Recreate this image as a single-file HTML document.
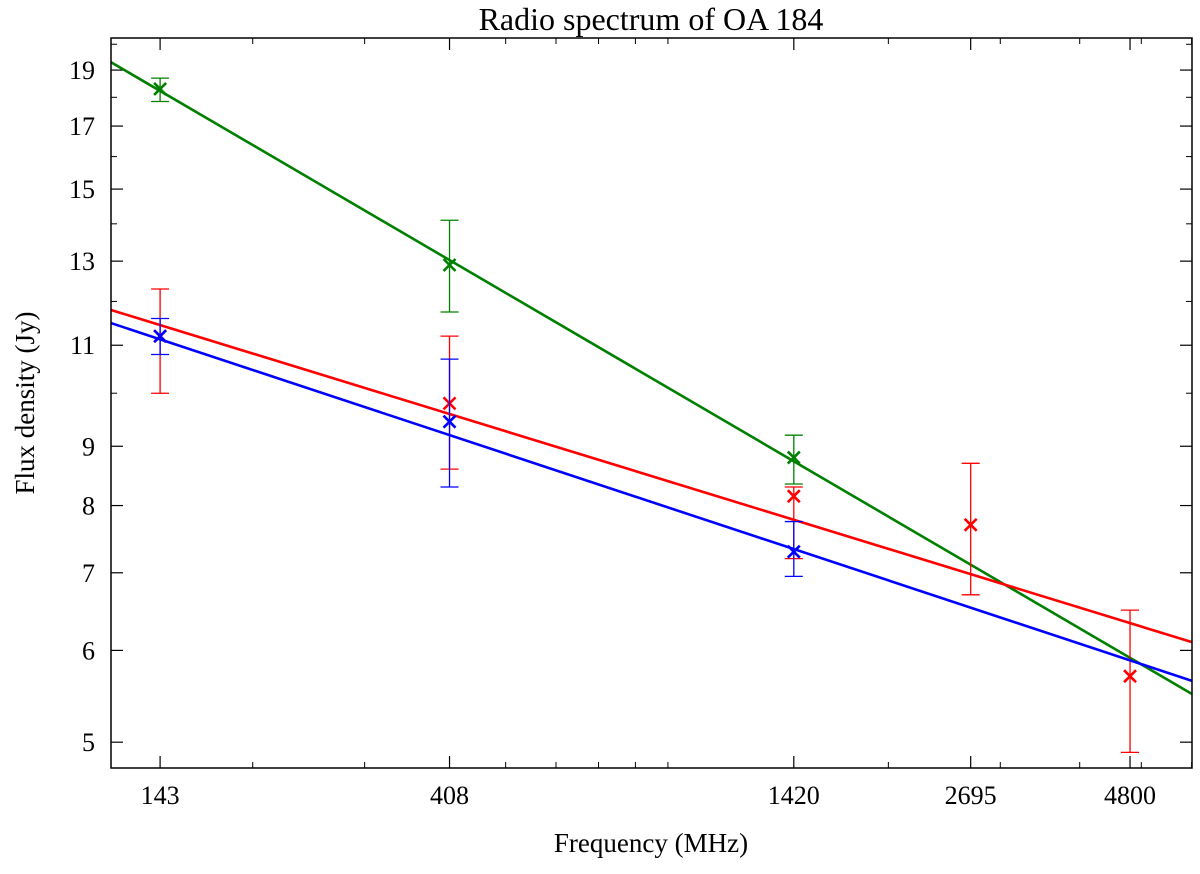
<!DOCTYPE html>
<html><head><meta charset="utf-8"><style>
html,body{margin:0;padding:0;background:#fff;}
svg text{font-family:"Liberation Serif",serif;fill:#000;}
</style></head><body>
<svg id="chart" width="1200" height="869" xmlns="http://www.w3.org/2000/svg">
<text x="651" y="30" font-size="32" text-anchor="middle">Radio spectrum of OA 184</text>
<text x="651" y="852" font-size="27" text-anchor="middle">Frequency (MHz)</text>
<text transform="translate(34,403) rotate(-90)" font-size="27" text-anchor="middle">Flux density (Jy)</text>
<g id="ticks"></g>
<g id="series"></g>
<rect x="111" y="38" width="1081" height="730" fill="none" stroke="#000" stroke-width="1.5"/>
</svg>
<script>
const xTicks = [143, 408, 1420, 2695, 4800];
const yTicks = [5, 6, 7, 8, 9, 11, 13, 15, 17, 19];
const yMinor = [10, 12, 14, 16, 18, 20];
const xMinor = [200, 300, 500, 600, 700, 800, 900, 2000, 3000, 4000, 5000, 6000];
const seriesNames = ["green", "red", "blue"];
const seriesColors = ["#008000", "#ff0000", "#0000ff"];
const greenFreq = [143, 408, 1420];
const greenFlux = [18.3, 12.9, 8.8];
const greenLo = [17.85, 11.75, 8.35];
const greenHi = [18.7, 14.1, 9.2];
const redFreq = [143, 408, 1420, 2695, 4800];
const redFlux = [11.2, 9.8, 8.15, 7.7, 5.7];
const redLo = [10.0, 8.6, 7.2, 6.7, 4.9];
const redHi = [12.3, 11.2, 8.3, 8.7, 6.5];
const blueFreq = [143, 408, 1420];
const blueFlux = [11.2, 9.45, 7.3];
const blueLo = [10.8, 8.3, 6.95];
const blueHi = [11.6, 10.7, 7.75];
const fitAt143 = [18.23, 11.45, 11.13];
const fitIndex = [-0.3205, -0.1685, -0.1815];

const NS="http://www.w3.org/2000/svg";
const X0=111,X1=1192,Y0=38,Y1=768;
const xMin=Math.log10(119.7),xMax=Math.log10(6008);
const yMin=Math.log10(4.75),yMax=Math.log10(20.25);
const xs=f=>X0+(Math.log10(f)-xMin)/(xMax-xMin)*(X1-X0);
const ys=v=>Y1-(Math.log10(v)-yMin)/(yMax-yMin)*(Y1-Y0);
function mk(tag,attrs,parent){const e=document.createElementNS(NS,tag);for(const k in attrs)e.setAttribute(k,attrs[k]);parent.appendChild(e);return e;}
const tg=document.getElementById('ticks');
xTicks.forEach(t=>{const x=xs(t);
  let l=mk('line',{x1:x,x2:x,y1:Y1,y2:Y1-12,stroke:'#000','stroke-width':1.2},tg);
  
  l=mk('line',{x1:x,x2:x,y1:Y0,y2:Y0+12,stroke:'#000','stroke-width':1.2},tg);
  
  const tx=mk('text',{x:x,y:Y1+36,'font-size':26,'text-anchor':'middle'},tg);tx.textContent=t;
  });
xMinor.forEach(t=>{const x=xs(t);if(x>X1)return;
  let l=mk('line',{x1:x,x2:x,y1:Y1,y2:Y1-6,stroke:'#000','stroke-width':1},tg);
  
  l=mk('line',{x1:x,x2:x,y1:Y0,y2:Y0+6,stroke:'#000','stroke-width':1},tg);
  });
yTicks.forEach(t=>{const y=ys(t);
  let l=mk('line',{x1:X0,x2:X0+12,y1:y,y2:y,stroke:'#000','stroke-width':1.2},tg);
  
  l=mk('line',{x1:X1,x2:X1-12,y1:y,y2:y,stroke:'#000','stroke-width':1.2},tg);
  
  const tx=mk('text',{x:X0-16,y:y+9,'font-size':26,'text-anchor':'end'},tg);tx.textContent=t;
  });
yMinor.forEach(t=>{const y=ys(t);if(y<Y0)return;
  let l=mk('line',{x1:X0,x2:X0+6,y1:y,y2:y,stroke:'#000','stroke-width':1},tg);
  
  l=mk('line',{x1:X1,x2:X1-6,y1:y,y2:y,stroke:'#000','stroke-width':1},tg);
  });

const sg=document.getElementById('series');
const data=[[greenFreq,greenFlux,greenLo,greenHi],[redFreq,redFlux,redLo,redHi],[blueFreq,blueFlux,blueLo,blueHi]];
data.forEach((d,i)=>{const c=seriesColors[i];
  const fit=f=>fitAt143[i]*Math.pow(f/143,fitIndex[i]);
  const fl=mk('line',{x1:X0,y1:ys(fit(119.7)),x2:X1,y2:ys(fit(6008)),stroke:c,'stroke-width':2.6},sg);
  
  d[0].forEach((f,j)=>{const x=xs(f),y=ys(d[1][j]),ylo=ys(d[2][j]),yhi=ys(d[3][j]);
    const g=mk('g',{stroke:c},sg);
    
    mk('line',{x1:x,x2:x,y1:ylo,y2:yhi,'stroke-width':1.3},g);
    mk('line',{x1:x-9,x2:x+9,y1:ylo,y2:ylo,'stroke-width':1.3},g);
    mk('line',{x1:x-9,x2:x+9,y1:yhi,y2:yhi,'stroke-width':1.3},g);
    mk('path',{d:`M${x-6},${y-6}L${x+6},${y+6}M${x-6},${y+6}L${x+6},${y-6}`,'stroke-width':2.6,fill:'none'},g);
  });
});
</script>
</body></html>
